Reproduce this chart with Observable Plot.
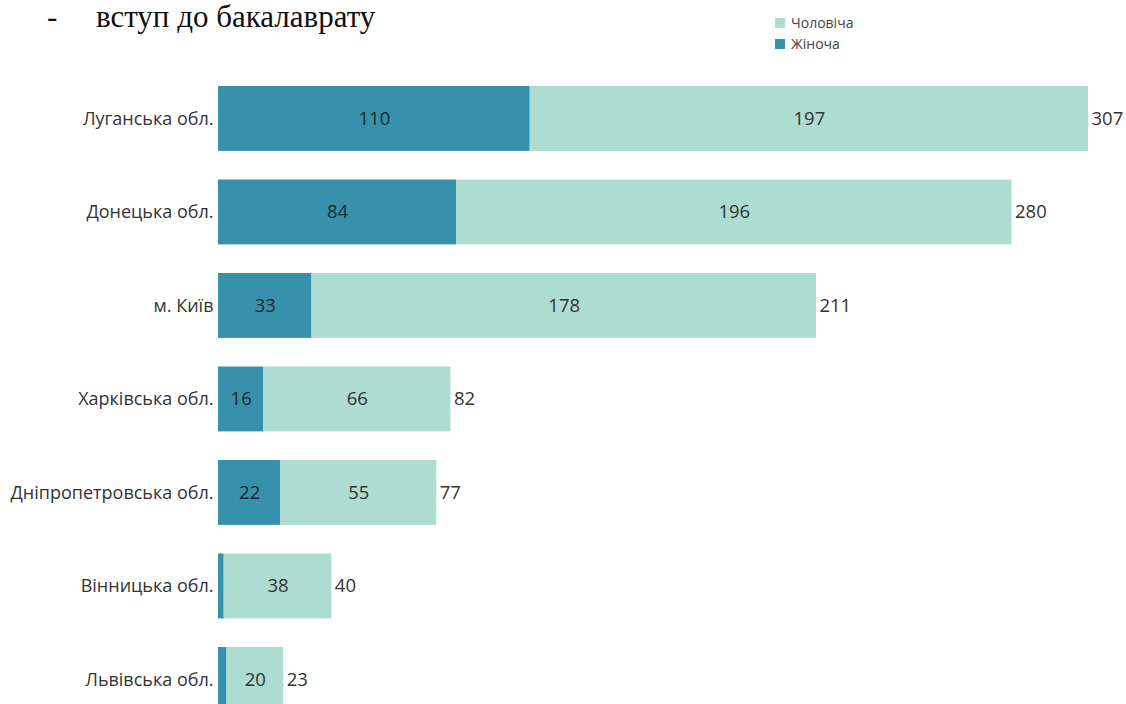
<!DOCTYPE html>
<html><head><meta charset="utf-8">
<script src="https://cdn.jsdelivr.net/npm/d3@7"></script>
<script src="https://cdn.jsdelivr.net/npm/@observablehq/plot@0.6"></script>
<style>
html,body{margin:0;padding:0;background:#fff;overflow:hidden;width:1126px;height:704px;}
#wrap{position:relative;width:1126px;height:704px;}
.title{position:absolute;top:1px;font-family:"Liberation Serif","Times New Roman",serif;font-size:31px;color:#111;white-space:pre;line-height:1;}
#legend{position:absolute;left:775px;top:12px;font-family:"Open Sans","Noto Sans",sans-serif;font-size:14px;color:#444;}
#legend div{display:flex;align-items:center;height:21px;}
#legend span.sw{display:inline-block;width:10px;height:10px;margin-right:6px;}
#chart{position:absolute;left:0;top:0;}
</style></head>
<body><div id="wrap">
<div id="chart"></div>
<div class="title" style="left:47px">-</div>
<div class="title" style="left:96px">вступ до бакалаврату</div>
<div id="legend"></div>
</div>
<script>
const regions = ["Луганська обл.","Донецька обл.","м. Київ","Харківська обл.","Дніпропетровська обл.","Вінницька обл.","Львівська обл."];
const female = [110,84,33,16,22,2,3];
const male = [197,196,178,66,55,38,20];
const genders = ["Жіноча","Чоловіча"];
const colors = ["#3891ab","#addcd0"];

const rows = [];
const totals = [];
regions.forEach((r,i)=>{
  rows.push({region:r, gender:genders[0], value:female[i], x1:0, x2:female[i]});
  rows.push({region:r, gender:genders[1], value:male[i], x1:female[i], x2:female[i]+male[i]});
  totals.push({region:r, total:female[i]+male[i]});
});

const chart = Plot.plot({
  width:1126, height:728,
  marginLeft:218, marginRight:38, marginTop:71.7, marginBottom:1.8,
  style:{fontFamily:'"Open Sans","Noto Sans",sans-serif', fontSize:"18px", color:"#333", background:"transparent"},
  x:{domain:[0,307], axis:null},
  y:{domain:regions, paddingInner:0.306, paddingOuter:0.153, round:false, label:null, tickSize:0, tickPadding:5},
  color:{domain:genders, range:colors},
  marks:[
    Plot.barX(rows,{x1:"x1", x2:"x2", y:"region", fill:"gender"}),
    Plot.text(rows.filter(d=>d.value>=10),{x:d=>(d.x1+d.x2)/2, y:"region", text:d=>String(d.value), fill:d=>d.gender===genders[0]?"#1c2b30":"#333", fontSize:18.5}),
    Plot.text(totals,{x:"total", y:"region", text:d=>String(d.total), dx:3, textAnchor:"start", fill:"#333", fontSize:18.5}),
    Plot.axisY({tickSize:0, tickPadding:5, fontSize:18, label:null, fill:"#333"})
  ]
});
document.getElementById("chart").appendChild(chart);

const lg = document.getElementById("legend");
[[genders[1],colors[1]],[genders[0],colors[0]]].forEach(([g,c])=>{
  const d=document.createElement("div");
  d.innerHTML=`<span class="sw" style="background:${c}"></span>${g}`;
  lg.appendChild(d);
});
</script>
</body></html>
